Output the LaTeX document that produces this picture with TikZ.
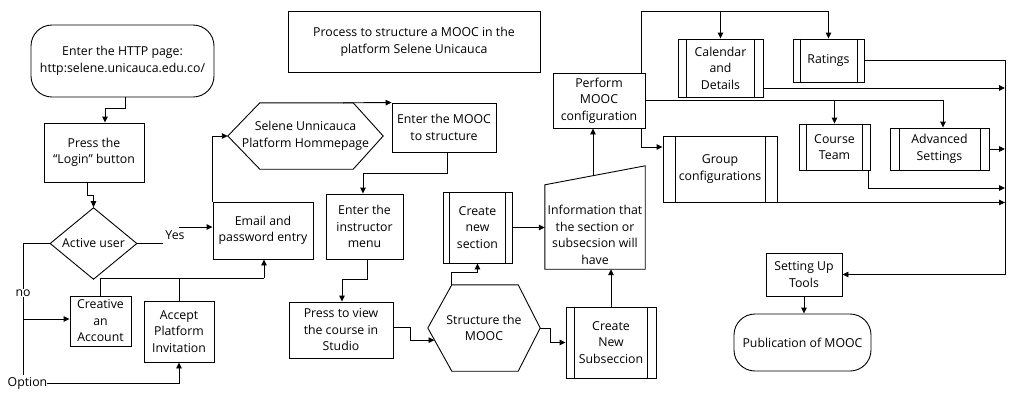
\documentclass[tikz,border=0pt]{standalone}
\usepackage{fontspec}
\setmainfont{Open Sans}
\usetikzlibrary{shapes.geometric,arrows.meta,calc}
\tikzset{
  every node/.style={font=\fontsize{12.3}{16.5}\selectfont, align=center, inner sep=0pt},
  box/.style={draw, rectangle, line width=0.9pt},
  term/.style={draw, rectangle, rounded corners=21pt, line width=0.9pt},
  plain/.style={draw=none, rectangle},
  dia/.style={draw, diamond, line width=0.9pt},
  conn/.style={line width=0.9pt},
  arr/.style={line width=0.9pt, -{Triangle[length=6pt,width=5.5pt]}},
}
\newcommand\ppbars[3]{%
  \draw[conn] ([xshift=#2]#1.north west) -- ([xshift=#2]#1.south west);
  \draw[conn] ([xshift=-#3]#1.north east) -- ([xshift=-#3]#1.south east);}
\begin{document}
\begin{tikzpicture}[x=1pt,y=-1pt]
\useasboundingbox (0,0) rectangle (1010,392);
% nodes
\node[term, minimum width=183pt, minimum height=72pt] (start) at (122.5,61) {Enter the HTTP page:\\http:selene.unicauca.edu.co/};
\node[box, minimum width=100pt, minimum height=59pt] (press) at (94,152.5) {Press the\\“Login” button};
\node[dia, minimum width=87pt, minimum height=71pt] (dia) at (93.5,243.5) {Active user};
\node[box, minimum width=100pt, minimum height=57pt] (email) at (263,230.5) {Email and\\password entry};
\node[box, minimum width=61pt, minimum height=50pt] (creative) at (100.5,321) {Creative\\an\\Account};
\node[box, minimum width=70pt, minimum height=61pt] (accept) at (179,331.5) {Accept\\Platform\\Invitation};
\node[box, minimum width=252pt, minimum height=61pt, font=\fontsize{12.3}{17}\selectfont] (title) at (414,41.5) {Process to structure a MOOC in the\\platform Selene Unicauca};
\node[plain, minimum width=155pt, minimum height=66pt] (hexS) at (305.5,136) {Selene Unnicauca\\Platform Hommepage};
\draw[conn] (hexS.west) -- ([xshift=32]hexS.north west) -- ([xshift=-30]hexS.north east) -- (hexS.east) -- ([xshift=-30]hexS.south east) -- ([xshift=32]hexS.south west) -- cycle;
\node[box, minimum width=104pt, minimum height=49pt] (mooc) at (444,127.5) {Enter the MOOC\\to structure};
\node[box, minimum width=77pt, minimum height=65pt] (instr) at (364.5,226.5) {Enter the\\instructor\\menu};
\node[box, minimum width=104pt, minimum height=56pt] (pv) at (341,330) {Press to view\\the course in\\Studio};
\node[plain, minimum width=112pt, minimum height=86pt] (hexM) at (484,328) {Structure the\\MOOC};
\draw[conn] (hexM.west) -- ([xshift=24]hexM.north west) -- ([xshift=-22]hexM.north east) -- (hexM.east) -- ([xshift=-22]hexM.south east) -- ([xshift=24]hexM.south west) -- cycle;
\coordinate (hexMin) at ($(hexM.west)!0.28!([xshift=24]hexM.south west)$);
\node[box, minimum width=69pt, minimum height=71pt] (sec) at (477.5,227.5) {Create\\new\\section};
\ppbars{sec}{7}{7}
\node[plain, minimum width=100pt, minimum height=68pt] (info) at (595,235) {Information that\\the section or\\subsecsion will\\have};
\draw[conn] (info.south west) -- (info.south east) -- ([yshift=35]info.north east) -- ([yshift=16]info.north west) -- cycle;
\coordinate (infotop) at ($([yshift=16]info.north west)!0.48!([yshift=35]info.north east)$);
\node[box, minimum width=90pt, minimum height=71pt] (subsec) at (611,342.5) {Create\\New\\Subseccion};
\ppbars{subsec}{9}{9}
\node[box, minimum width=92pt, minimum height=55pt] (perform) at (599,100.5) {Perform\\MOOC\\configuration};
\node[box, minimum width=85pt, minimum height=58pt] (cal) at (720.5,68) {Calendar\\and\\Details};
\ppbars{cal}{9}{9}
\node[box, minimum width=71pt, minimum height=43pt] (ratings) at (828.5,60.5) {Ratings};
\ppbars{ratings}{8}{7}
\node[box, minimum width=71pt, minimum height=46pt] (course) at (834.5,147) {Course\\Team};
\ppbars{course}{8}{8}
\node[box, minimum width=99pt, minimum height=42pt] (adv) at (939.5,149) {Advanced\\Settings};
\ppbars{adv}{10}{9}
\node[box, minimum width=114pt, minimum height=66pt] (group) at (720,169) {Group\\configurations};
\ppbars{group}{13}{12}
\node[box, minimum width=76pt, minimum height=43pt] (setting) at (804,274.5) {Setting Up\\Tools};
\node[term, minimum width=137pt, minimum height=57pt] (pub) at (802.5,342.5) {Publication of MOOC};
% labels
\node (yes) at (175,235.5) {Yes};
\node (opt) at (27.5,383) {Option};
% connectors
\draw[arr] ([xshift=2.5]start.south) -- ++(0,11) -| ([xshift=11]press.north);
\draw[arr] ([xshift=-7]press.south) -- ++(0,13) -| (dia.north);
\coordinate (yesA) at (163,243.5);
\coordinate (yesB) at (179,227);
\draw[conn] (dia.east) -- (yesA);
\draw[arr] (yesB) -- (yesB -| email.west);
\coordinate (noc) at (23,375);
\draw[conn] (dia.west) -| (noc);
\node[fill=white, inner sep=1pt] (no) at (23,293) {no};
\coordinate (nob) at (23,319);
\draw[arr] (nob) -- (nob -| creative.west);
\draw[arr] (opt.east) -| (accept.south);
\coordinate (m1) at (264,278);
\draw[conn] (creative.north) |- (m1);
\draw[conn] (accept.north) -- (accept.north |- m1);
\draw[arr] (m1) -- (m1 |- email.south);
\draw[arr] (email.north west) |- (hexS.west);
\draw[arr] ([xshift=37.5]hexS.north) -- (mooc.north west);
\draw[arr] ([xshift=3]mooc.south) -- ++(0,21) -| ([xshift=-1.5]instr.north);
\draw[arr] ([xshift=2.5]instr.south) -- ++(0,20) -| ([xshift=1]pv.north);
\draw[arr] ([yshift=3]pv.east) -- ++(17,0) |- (hexMin);
\draw[arr] ([xshift=24]hexM.north west) -- ++(0,-12) -| (sec.south);
\draw[arr] (sec.east) -- (sec.east -| info.west);
\draw[arr] (hexM.east) -- ++(10,0) |- (subsec.west);
\draw[arr] (subsec.north) -- (subsec.north |- info.south);
\draw[arr] (infotop) -- (infotop |- perform.south);
\coordinate (topline) at (0,11);
\draw[arr] ([xshift=-4]perform.north east) |- (ratings.north |- topline) -- (ratings.north);
\draw[arr] (cal.north |- topline) -- (cal.north);
\draw[arr] (perform.east) -| ([xshift=3.5]adv.north);
\draw[arr] (course.north |- perform.east) -- (course.north);
\draw[arr] ([xshift=-4]perform.south east) |- ([yshift=22]group.west);
\coordinate (col) at (1005,0);
\draw[arr] (ratings.east) -| (col |- setting.east) -- (setting.east);
\coordinate (c1) at (1005,88);
\draw[arr] (c1 -| cal.east) -- (c1);
\draw[arr] (adv.east) -- (adv.east -| col);
\coordinate (c2) at (1005,188);
\draw[arr] ([xshift=-2]course.south east) |- (c2);
\draw[arr] (group.south east) -- (group.south east -| col);
\draw[arr] (setting.south) -- (setting.south |- pub.north);
\end{tikzpicture}
\end{document}
